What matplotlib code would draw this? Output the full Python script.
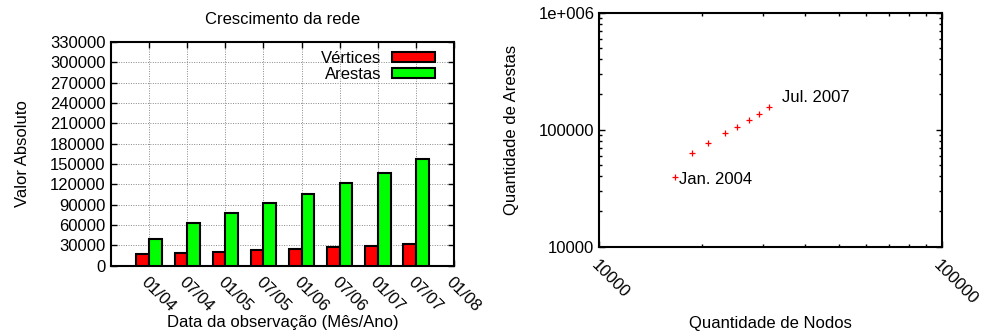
import matplotlib
matplotlib.use("Agg")
import numpy as np
import matplotlib.pyplot as plt
from matplotlib.patches import Patch
from matplotlib.ticker import NullFormatter

plt.rcParams['font.family'] = ['Liberation Sans', 'DejaVu Sans']
plt.rcParams['font.size'] = 12

# data
datas = ['01/04', '07/04', '01/05', '07/05', '01/06', '07/06', '01/07', '07/07', '01/08']
vertices = [16600, 18700, 20800, 23300, 25300, 27300, 29300, 31400]
arestas = [39500, 62900, 77500, 93200, 106400, 121800, 137100, 157100]

fig = plt.figure(figsize=(9.86, 3.33), dpi=100)

# --- left: bar chart ---
ax = fig.add_axes([0.1126, 0.2021, 0.3479, 0.6718])
pos = np.arange(1, len(vertices) + 1)
w = 1 / 3
ax.bar(pos - w / 2, vertices, width=w, color='#ff0000', edgecolor='black', linewidth=1.5, zorder=3)
ax.bar(pos + w / 2, arestas, width=w, color='#00ff00', edgecolor='black', linewidth=1.5, zorder=3)

ax.set_xlim(0, 9)
ax.set_ylim(0, 330000)
ax.set_yticks(np.arange(0, 330001, 30000))
ax.set_xticks(np.arange(1, 10))
ax.set_xticklabels(datas, rotation=-45, ha='left', va='top', rotation_mode='anchor')
ax.tick_params(direction='in', top=True, right=True, length=4, width=1, pad=4)
ax.tick_params(axis='x', pad=6)
ax.grid(True, linestyle=(0, (1, 1.5)), color='#888888', linewidth=0.7, zorder=0)
ax.set_axisbelow(True)
for s in ax.spines.values():
    s.set_linewidth(1.5)

ax.set_title('Crescimento da rede', fontsize=12, pad=13)
ax.set_ylabel('Valor Absoluto', labelpad=14)
ax.set_xlabel('Data da observação (Mês/Ano)', labelpad=1)

handles = [Patch(facecolor='#ff0000', edgecolor='black', linewidth=1.5),
           Patch(facecolor='#00ff00', edgecolor='black', linewidth=1.5)]
ax.legend(handles, ['Vértices', 'Arestas'], loc='upper right', frameon=False,
          bbox_to_anchor=(0.971, 1.0),
          markerfirst=False, handlelength=2.6, handleheight=0.5, labelspacing=0.05,
          handletextpad=0.6, borderaxespad=0.15, fontsize=12)

# --- right: log-log scatter ---
ax2 = fig.add_axes([0.6078, 0.2592, 0.3473, 0.7027])
ax2.plot(vertices, arestas, linestyle='none', marker='+', color='red', markersize=5, markeredgewidth=0.9)
ax2.set_xscale('log')
ax2.set_yscale('log')
ax2.set_xlim(10000, 100000)
ax2.set_ylim(10000, 1000000)
ax2.set_yticks([1e4, 1e5, 1e6])
ax2.set_yticklabels(['10000', '100000', '1e+006'])
ax2.set_xticks([1e4, 1e5])
ax2.set_xticklabels(['10000', '100000'], rotation=-45, ha='left', va='top', rotation_mode='anchor')
ax2.xaxis.set_minor_formatter(NullFormatter())
ax2.yaxis.set_minor_formatter(NullFormatter())
ax2.tick_params(which='both', direction='in', top=True, right=True, width=1)
ax2.tick_params(which='major', length=4)
ax2.tick_params(which='minor', length=2.5)
ax2.tick_params(axis='x', pad=8)
for s in ax2.spines.values():
    s.set_linewidth(1.5)

ax2.annotate('Jan. 2004', (vertices[0], arestas[0]), xytext=(3.4, -2),
             textcoords='offset points', ha='left', va='center', fontsize=12)
ax2.annotate('Jul. 2007', (vertices[-1], arestas[-1]), xytext=(9, 6.5),
             textcoords='offset points', ha='left', va='center', fontsize=12)

ax2.set_ylabel('Quantidade de Arestas', labelpad=14)
ax2.set_xlabel('Quantidade de Nodos', labelpad=6)

fig.savefig('out.png', dpi=100)
